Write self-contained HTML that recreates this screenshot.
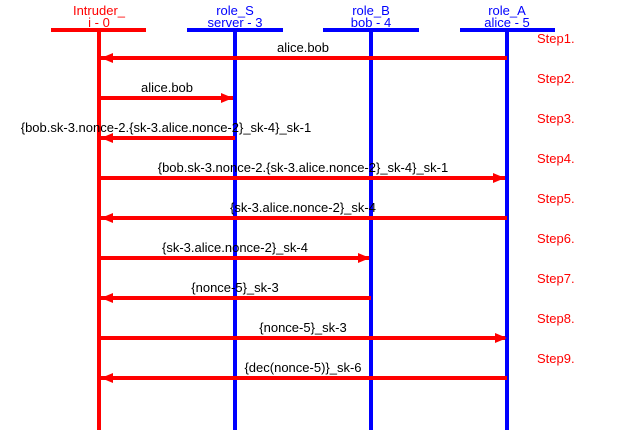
<!DOCTYPE html>
<html><head><meta charset="utf-8"><style>
html,body{margin:0;padding:0;background:#fff;width:618px;height:430px;overflow:hidden}
svg text{font-family:"Liberation Sans",Arial,sans-serif;font-size:13px}
</style></head><body>
<svg width="618" height="430" xmlns="http://www.w3.org/2000/svg">
<g text-anchor="middle">
<text x="99" y="15" fill="#f00">Intruder_</text><text x="99" y="27" fill="#f00">i - 0</text>
<text x="235" y="15" fill="#00f">role_S</text><text x="235" y="27" fill="#00f">server - 3</text>
<text x="371" y="15" fill="#00f">role_B</text><text x="371" y="27" fill="#00f">bob - 4</text>
<text x="507" y="15" fill="#00f">role_A</text><text x="507" y="27" fill="#00f">alice - 5</text>
</g>
<rect x="51" y="28" width="95" height="4" fill="#f00"/>
<rect x="187" y="28" width="96" height="4" fill="#00f"/>
<rect x="323" y="28" width="96" height="4" fill="#00f"/>
<rect x="460" y="28" width="95" height="4" fill="#00f"/>
<rect x="97" y="30" width="4" height="400" fill="#f00"/>
<rect x="233" y="30" width="4" height="400" fill="#00f"/>
<rect x="369" y="30" width="4" height="400" fill="#00f"/>
<rect x="505" y="30" width="4" height="400" fill="#00f"/>
<g fill="#f00">
<text x="537" y="43">Step1.</text><text x="537" y="83">Step2.</text><text x="537" y="123">Step3.</text>
<text x="537" y="163">Step4.</text><text x="537" y="203">Step5.</text><text x="537" y="243">Step6.</text>
<text x="537" y="283">Step7.</text><text x="537" y="323">Step8.</text><text x="537" y="363">Step9.</text>
</g>
<g fill="#f00">
<rect x="101" y="56" width="406" height="4"/><polygon points="101,58 113,53 113,63"/>
<rect x="99" y="96" width="134" height="4"/><polygon points="233,98 221,93 221,103"/>
<rect x="101" y="136" width="134" height="4"/><polygon points="101,138 113,133 113,143"/>
<rect x="99" y="176" width="406" height="4"/><polygon points="505,178 493,173 493,183"/>
<rect x="101" y="216" width="406" height="4"/><polygon points="101,218 113,213 113,223"/>
<rect x="99" y="256" width="270" height="4"/><polygon points="370,258 358,253 358,263"/>
<rect x="101" y="296" width="270" height="4"/><polygon points="101,298 113,293 113,303"/>
<rect x="99" y="336" width="406" height="4"/><polygon points="507,338 495,333 495,343"/>
<rect x="101" y="376" width="406" height="4"/><polygon points="101,378 113,373 113,383"/>
</g>
<g text-anchor="middle" fill="#000">
<text x="303" y="52">alice.bob</text>
<text x="167" y="92">alice.bob</text>
<text x="166" y="132">{bob.sk-3.nonce-2.{sk-3.alice.nonce-2}_sk-4}_sk-1</text>
<text x="303" y="172">{bob.sk-3.nonce-2.{sk-3.alice.nonce-2}_sk-4}_sk-1</text>
<text x="303" y="212">{sk-3.alice.nonce-2}_sk-4</text>
<text x="235" y="252">{sk-3.alice.nonce-2}_sk-4</text>
<text x="235" y="292">{nonce-5}_sk-3</text>
<text x="303" y="332">{nonce-5}_sk-3</text>
<text x="303" y="372">{dec(nonce-5)}_sk-6</text>
</g>
</svg>
</body></html>
